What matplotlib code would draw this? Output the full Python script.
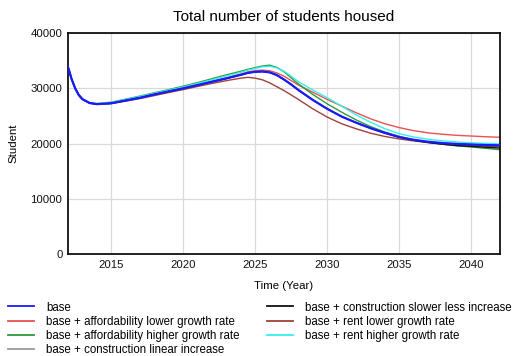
import matplotlib
matplotlib.use("Agg")
import matplotlib.pyplot as plt

plt.rcParams['font.family'] = ['Liberation Sans', 'DejaVu Sans']

# Simulation time axis (finer steps during the initial drop and around the peak)
years = [2012, 2012.25, 2012.5, 2012.75, 2013, 2013.5, 2014,
         2015, 2016, 2017, 2018, 2019, 2020, 2021, 2022, 2023,
         2024, 2024.5, 2025, 2025.5, 2026, 2026.5, 2027, 2027.5, 2028,
         2029, 2030, 2031, 2032, 2033, 2034, 2035, 2036, 2037, 2038,
         2039, 2040, 2041, 2042]

base = [33900, 31700, 30000, 28800, 28050, 27350, 27150,
        27300, 27800, 28300, 28900, 29450, 30000, 30600, 31200, 31800,
        32450, 32800, 33000, 33050, 32900, 32400, 31600, 30700, 29700,
        27900, 26300, 24900, 23800, 22800, 21950, 21200, 20700, 20350, 20100,
        19950, 19850, 19750, 19700]
afford_lower = [33900, 31700, 30000, 28800, 28050, 27350, 27150,
                27320, 27830, 28340, 28950, 29520, 30080, 30680, 31300, 31920,
                32600, 33000, 33200, 33300, 33200, 32800, 32200, 31400, 30600,
                29300, 28000, 26800, 25600, 24500, 23600, 22900, 22350, 21950, 21700,
                21500, 21380, 21250, 21150]
afford_higher = [33900, 31700, 30000, 28800, 28070, 27400, 27250,
                 27500, 28050, 28600, 29200, 29780, 30400, 31050, 31750, 32450,
                 33100, 33450, 33750, 34050, 34200, 33800, 33000, 31900, 30800,
                 28900, 27200, 25700, 24300, 23100, 22100, 21300, 20700, 20250, 19900,
                 19600, 19400, 19150, 18900]
constr_linear = [33900, 31700, 30000, 28800, 28050, 27350, 27150,
                 27300, 27800, 28300, 28900, 29450, 30000, 30600, 31200, 31800,
                 32450, 32800, 33000, 33050, 32900, 32400, 31600, 30700, 29700,
                 27900, 26300, 24900, 23800, 22800, 21950, 21200, 20700, 20350, 20100,
                 19950, 19850, 19750, 19700]
constr_slower = [33900, 31700, 30000, 28800, 28050, 27350, 27150,
                 27300, 27800, 28300, 28900, 29450, 30000, 30600, 31200, 31800,
                 32450, 32800, 33000, 33050, 32900, 32400, 31600, 30700, 29700,
                 27900, 26300, 24900, 23800, 22800, 21900, 21150, 20600, 20200, 19900,
                 19650, 19500, 19350, 19200]
rent_lower = [33900, 31700, 30000, 28800, 28050, 27350, 27130,
              27250, 27700, 28150, 28700, 29250, 29780, 30350, 30900, 31400,
              31850, 32000, 31850, 31550, 31000, 30300, 29600, 28800, 28000,
              26300, 24800, 23600, 22700, 21900, 21300, 20850, 20500, 20200, 19950,
              19800, 19650, 19550, 19500]
rent_higher = [33900, 31700, 30000, 28800, 28060, 27380, 27220,
               27450, 27980, 28520, 29100, 29680, 30250, 30900, 31550, 32250,
               32900, 33300, 33600, 33900, 34000, 33700, 33100, 32200, 31200,
               29700, 28300, 26800, 25200, 23900, 22700, 21800, 21200, 20800, 20500,
               20300, 20150, 20050, 19950]

series = [
    ("base", base, "#1a1aff", 1.6),
    ("base + affordability lower growth rate", afford_lower, "#e8524f", 1.0),
    ("base + affordability higher growth rate", afford_higher, "#2e9a3a", 1.0),
    ("base + construction linear increase", constr_linear, "#9a9a9a", 1.0),
    ("base + construction slower less increase", constr_slower, "#111111", 1.0),
    ("base + rent lower growth rate", rent_lower, "#a0403c", 1.0),
    ("base + rent higher growth rate", rent_higher, "#33f0f0", 1.0),
]

fig = plt.figure(figsize=(5.15, 3.56), dpi=100)
ax = fig.add_axes([0.132, 0.286, 0.839, 0.621])

# draw the baseline last so it sits on top of the overlapping runs
zorders = {"base": 5, "base + construction slower less increase": 4,
           "base + construction linear increase": 3}
handles = []
for name, vals, color, lw in series:
    ln, = ax.plot(years, vals, color=color, lw=lw, zorder=zorders.get(name, 2),
                  label=name)
    handles.append(ln)

ax.set_xlim(2012, 2042)
ax.set_ylim(0, 40000)
ax.set_xticks([2015, 2020, 2025, 2030, 2035, 2040])
ax.set_yticks([0, 10000, 20000, 30000, 40000])
ax.grid(True, color="#d9d9d9", lw=0.9)
ax.set_axisbelow(True)
ax.tick_params(length=0, labelsize=8.2, pad=4, colors="#111111")
for sp in ax.spines.values():
    sp.set_linewidth(1.3)
    sp.set_color("#111111")

ax.set_title("Total number of students housed", fontsize=11, pad=9)
ax.set_xlabel("Time (Year)", fontsize=8.2, labelpad=8)
ax.set_ylabel("Student", fontsize=8.2, labelpad=9)

labels = [s[0] for s in series]
leg_kw = dict(loc="upper left", frameon=False, fontsize=8.3, handlelength=2.25,
              handletextpad=1.05, labelspacing=0.2, borderpad=0, borderaxespad=0)
leg1 = fig.legend(handles[:4], labels[:4], bbox_to_anchor=(0.0155, 0.153), **leg_kw)
leg2 = fig.legend(handles[4:], labels[4:], bbox_to_anchor=(0.518, 0.153), **leg_kw)
for lg in (leg1, leg2):
    for ln in lg.get_lines():
        ln.set_linewidth(1.3)

fig.savefig("out.png", dpi=100)
